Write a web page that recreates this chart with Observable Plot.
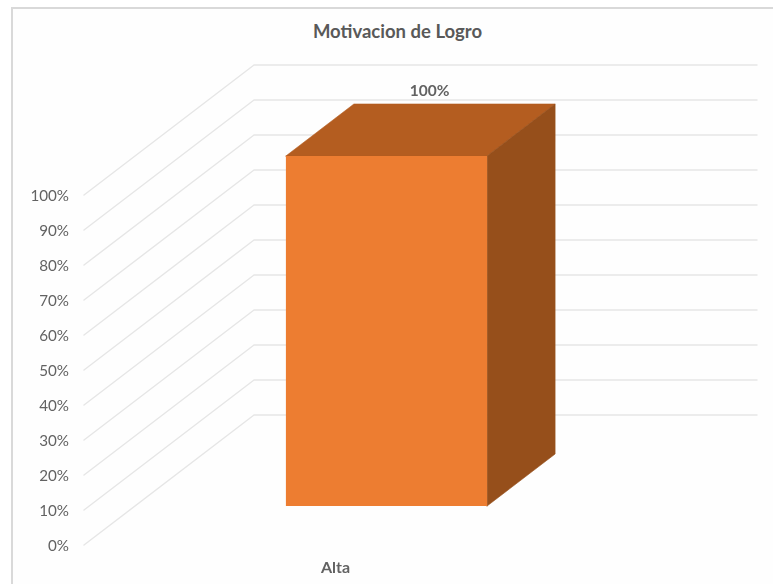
<!DOCTYPE html>
<html>
<head>
<meta charset="utf-8">
<script src="https://cdn.jsdelivr.net/npm/d3@7"></script>
<script src="https://cdn.jsdelivr.net/npm/@observablehq/plot@0.6"></script>
<style>
  html, body { margin: 0; padding: 0; background: #fff; overflow: hidden; }
  #chart { position: relative; width: 773px; height: 584px; font-family: Lato, "Open Sans", sans-serif; }
  #frame { position: absolute; left: 11px; top: 7px; right: 0; bottom: 0; border-left: 2px solid #d9d9d9; border-top: 2px solid #d9d9d9; background: #fefefe; }
  #title { position: absolute; left: 0; top: 19px; width: 795px; text-align: center; font-size: 18.5px; line-height: 24px; font-weight: 700; color: #595959; }
  #chart svg { position: absolute; left: 0; top: 0; background: transparent; filter: blur(0.35px); }
</style>
</head>
<body>
<div id="chart"><div id="frame"></div><div id="title">Motivacion de Logro</div></div>
<script>
const categories = ["Alta"];
const values = [100];
const valueTicks = [0, 10, 20, 30, 40, 50, 60, 70, 80, 90, 100];
const title = "Motivacion de Logro";

// Oblique projection: a unit of depth moves a point right and up, in data units.
const depthX = 170 / 503;
const depthY = 130 / 3.5;
const barGap = 0.3;       // share of a category left empty on each side
const barDepth = [0.3, 0.7];
const project = (x, v, d) => ({x: x + d * depthX, y: v + d * depthY});

const gridLines = valueTicks.flatMap((v) => [
  {v, ...project(0, v, 0)},
  {v, ...project(0, v, 1)},
  {v, ...project(categories.length, v, 1)}
]);

const bars = categories.map((c, i) => {
  const x0 = i + barGap, x1 = i + 1 - barGap, v = values[i];
  const [d0, d1] = barDepth;
  return {
    c, v,
    front: [project(x0, 0, d0), project(x1, 0, d0), project(x1, v, d0), project(x0, v, d0)],
    top: [project(x0, v, d0), project(x1, v, d0), project(x1, v, d1), project(x0, v, d1)],
    side: [project(x1, 0, d0), project(x1, 0, d1), project(x1, v, d1), project(x1, v, d0)],
    label: {...project(i + 0.5, v, (d0 + d1) / 2), text: v + "%"}
  };
});

const ink = "#626262";
const face = (key, fill, stroke = "none") => Plot.line(bars[0][key].concat(bars[0][key].slice(0, 1)), {x: "x", y: "y", fill, stroke, strokeWidth: 0.6});

const plot = Plot.plot({
  width: 773,
  height: 584,
  marginLeft: 83.5,
  marginRight: 186.5,
  marginTop: 194.5,
  marginBottom: 39.5,
  style: {fontFamily: "Lato, 'Open Sans', sans-serif", background: "transparent", overflow: "visible"},
  x: {domain: [0, categories.length], axis: null},
  y: {domain: [0, 100], axis: null},
  marks: [
    Plot.line(gridLines, {x: "x", y: "y", z: "v", stroke: "#e6e6e6", strokeWidth: 1.4}),
    face("top", "#b45d20", "#b45d20"),
    face("side", "#964f1b", "#964f1b"),
    face("front", "#ed7d31"),
    Plot.axisY(valueTicks, {
      anchor: "left", tickSize: 0, tickPadding: 15,
      tickFormat: (d) => d + "%", label: null,
      fontSize: 15.2, fill: ink, dy: 1.5
    }),
    Plot.text(bars.map((b) => b.label), {
      x: "x", y: "y", text: "text", dx: 9, dy: -38.5,
      fontSize: 15.5, fontWeight: 700, fill: ink
    }),
    Plot.text(categories, {
      x: (d, i) => i + 0.5, y: () => 0, text: (d) => d, dy: 23,
      fontSize: 16, fontWeight: 700, fill: ink
    })
  ]
});
document.getElementById("title").textContent = title;
document.getElementById("chart").appendChild(plot);
</script>
</body>
</html>
